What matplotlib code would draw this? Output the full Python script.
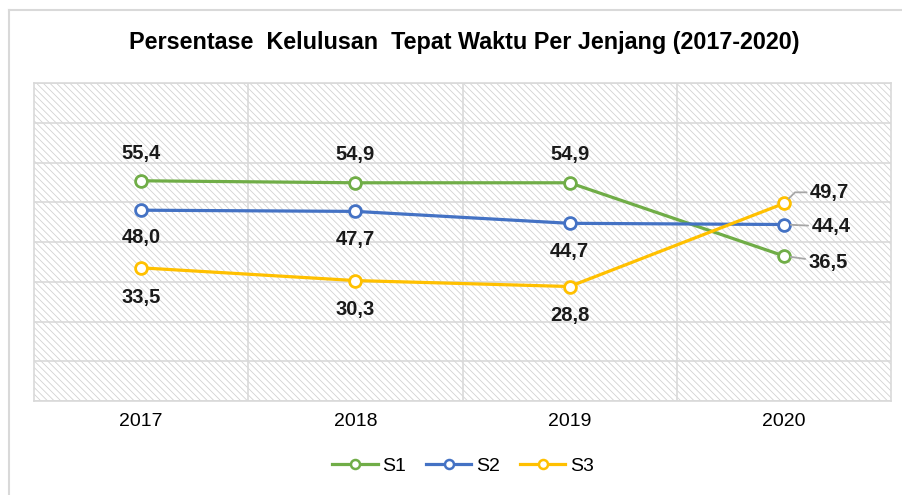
import matplotlib as mpl
mpl.use('Agg')
import matplotlib.pyplot as plt
from matplotlib.lines import Line2D

years = ['2017', '2018', '2019', '2020']
s1 = [55.4, 54.9, 54.9, 36.5]
s2 = [48.0, 47.7, 44.7, 44.4]
s3 = [33.5, 30.3, 28.8, 49.7]
series_names = ['S1', 'S2', 'S3']
colors = ['#70ad47', '#4472c4', '#ffc000']

plt.rcParams['font.family'] = ['Liberation Sans', 'DejaVu Sans']
plt.rcParams['hatch.linewidth'] = 0.6
plt.rcParams['hatch.color'] = '#d2d2d2'

fig = plt.figure(figsize=(9.02, 4.95), dpi=100)
ax = fig.add_axes([34/902, 1 - 401/495, (891-34)/902, (401-83)/495])

# hatched plot background
ax.patch.set_facecolor('white')
ax.patch.set_hatch('\\' * 5)
ax.patch.set_edgecolor('#d2d2d2')

x = list(range(len(years)))
data = [s1, s2, s3]
for vals, name, c in zip(data, series_names, colors):
    ax.plot(x, vals, color=c, lw=2.3, marker='o', ms=8.5, mfc='white',
            mec=c, mew=2, label=name, zorder=3, solid_capstyle='round')

def lab(xi, v, dx, dy, leader=None):
    kw = {}
    if leader:
        kw['arrowprops'] = dict(arrowstyle='-', color='#a6a6a6', lw=1.3,
                                shrinkA=0.5, shrinkB=5, connectionstyle=leader)
    ax.annotate(f'{v:.1f}'.replace('.', ','), (xi, v), xytext=(dx, dy),
                textcoords='offset points', ha='center', va='center',
                fontsize=14.5, fontweight='bold', color='#1a1a1a', zorder=4, **kw)

for i in range(3):
    lab(i, s1[i], 0, 20)
    lab(i, s2[i], 0, -20)
    lab(i, s3[i], 0, -21)
lab(3, s3[3], 33, 8, leader='angle,angleA=0,angleB=45,rad=0')
lab(3, s2[3], 34, -1.5, leader='arc3')
lab(3, s1[3], 32, -4.5, leader='arc3')

ax.set_xlim(-0.5, 3.5)
ax.set_ylim(0, 80)
ax.set_yticks(range(0, 81, 10))
ax.set_yticklabels([])
ax.set_xticks([0.5, 1.5, 2.5], minor=True)
ax.set_xticks(x)
ax.set_xticklabels(years, fontsize=14)
ax.tick_params(axis='both', which='both', length=0)
ax.tick_params(axis='x', pad=9)
ax.grid(True, axis='y', color='#d9d9d9', lw=1.2, zorder=1)
ax.grid(True, axis='x', which='minor', color='#d9d9d9', lw=1.2, zorder=1)
ax.set_axisbelow(True)
for sp in ax.spines.values():
    sp.set_color('#d9d9d9')
    sp.set_linewidth(1.2)

fig.text(464/902, 1 - 42/495, 'Persentase  Kelulusan  Tepat Waktu Per Jenjang (2017-2020)',
         ha='center', va='center', fontsize=16.8, fontweight='bold')

handles = [Line2D([], [], color=c, lw=2.3, marker='o', ms=6.5, mfc='white',
                  mec=c, mew=1.8) for c in colors]
leg = fig.legend(handles, series_names, loc='center',
                 bbox_to_anchor=(463/902, 1 - 466/495), ncol=3,
                 frameon=False, fontsize=14, handlelength=2.35,
                 columnspacing=1.0, handletextpad=0.25)

# outer chart frame (left and top edges visible)
fig.add_artist(Line2D([9/902, 9/902], [0, 1 - 10/495], color='#d9d9d9', lw=1.5))
fig.add_artist(Line2D([9/902, 1], [1 - 10/495, 1 - 10/495], color='#d9d9d9', lw=1.5))

fig.savefig('out.png', dpi=100)
